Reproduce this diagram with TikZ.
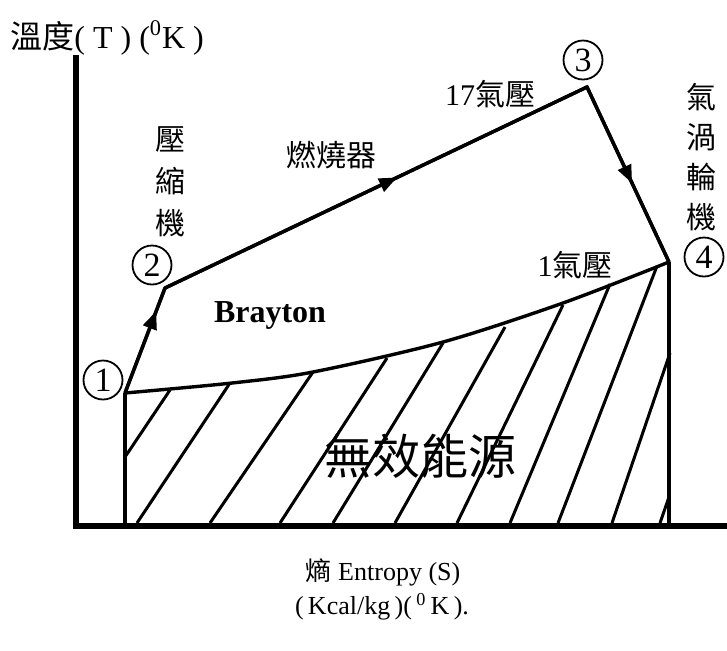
\documentclass[tikz,border=0pt]{standalone}
\usepackage{fontspec}
\setmainfont{Liberation Serif}
\newfontfamily\cjk{Noto Sans CJK TC}
\usetikzlibrary{arrows.meta, decorations.markings}

\tikzset{
  axis/.style={line width=3pt},
  cyc/.style={line width=1.7pt, line join=miter},
  hatch/.style={line width=1.5pt},
  arrowat/.style={postaction={decorate, decoration={markings,
      mark=at position #1 with {\arrow{Triangle[length=9pt,width=7pt]}}}}},
  circnum/.style={circle, draw, line width=0.9pt, inner sep=0pt, minimum size=19.5pt,
      font=\fontsize{17}{17}\selectfont},
  cjklbl/.style={font=\fontsize{15}{21}\selectfont\cjk, align=center, inner sep=0pt},
  txt/.style={inner sep=0pt},
}

\begin{document}
\begin{tikzpicture}[x=0.5pt, y=-0.5pt]
  \useasboundingbox (0,0) rectangle (727,650);
  % axes
  \coordinate (o) at (76,526);
  \coordinate (ytop) at (76,55);
  \coordinate (xend) at (727,526);
  \draw[axis] (ytop) -- (o |- 0,529);
  \draw[axis] (73,526) -- (xend);

  % cycle points
  \coordinate (p1) at (125,393);
  \coordinate (p2) at (165,288);
  \coordinate (p3) at (587,87);
  \coordinate (p4) at (669,262);

  % hatch lines
  \foreach \xa/\ya/\xb/\yb in {125/457/170/390, 137/523/230/383, 210/523/313/372,
      280/523/387/358, 333/523/443/343, 395/523/505/327, 457/523/563/305,
      510/523/610/284, 558/523/657/266, 612/523/670/353, 660/523/669/497} {
    \draw[hatch] (\xa,\ya) -- (\xb,\yb);
  }

  \draw[cyc] (p1) -- (p2) -- (p3) -- (p4);
  \draw[cyc, arrowat=0.78] (p1) -- (p2);
  \draw[cyc, arrowat=0.55] (p2) -- (p3);
  \draw[cyc, arrowat=0.55] (p3) -- (p4);
  \draw[cyc] plot[smooth] coordinates {(p1) (232,383) (313,372) (443,342)
      (563,303) (p4)};
  \draw[cyc] (p1) -- (p1 |- o);
  \draw[cyc] (p4) -- (p4 |- o);

  % state numbers
  \node[circnum] (c1) at (103,380) {1};
  \node[circnum] (c2) at (152,265) {2};
  \node[circnum] (c3) at (583,60) {3};
  \node[circnum] (c4) at (704,257) {4};

  % labels
  \node[txt, anchor=west, font=\fontsize{16}{16}\selectfont] (tlab) at (10,38)
      {{\cjk 溫度}( T ) (\textsuperscript{0}K )};
  \node[cjklbl] (comp) at (170,182) {壓\\縮\\機};
  \node[cjklbl] (burn) at (331,155) {燃燒器};
  \node[cjklbl] (hp) at (490,94) {{\rmfamily 17}氣壓};
  \node[cjklbl, font=\fontsize{15}{20}\selectfont\cjk] (turb) at (701,157) {氣\\渦\\輪\\機};
  \node[cjklbl] (lp) at (575,265) {{\rmfamily 1}氣壓};
  \node[txt, font=\fontsize{16}{16}\selectfont\bfseries] (bray) at (270,315) {Brayton};
  \node[txt, font=\fontsize{24}{24}\selectfont\cjk] (loss) at (420,456) {無效能源};
  \node[txt, font=\fontsize{13}{13}\selectfont] (slab) at (383,572) {{\cjk 熵} Entropy (S)};
  \node[txt, font=\fontsize{13}{13}\selectfont] (unit) at (382,607)
      {(\,Kcal/kg\,)(\,\textsuperscript{0}\,K\,).};
\end{tikzpicture}
\end{document}
